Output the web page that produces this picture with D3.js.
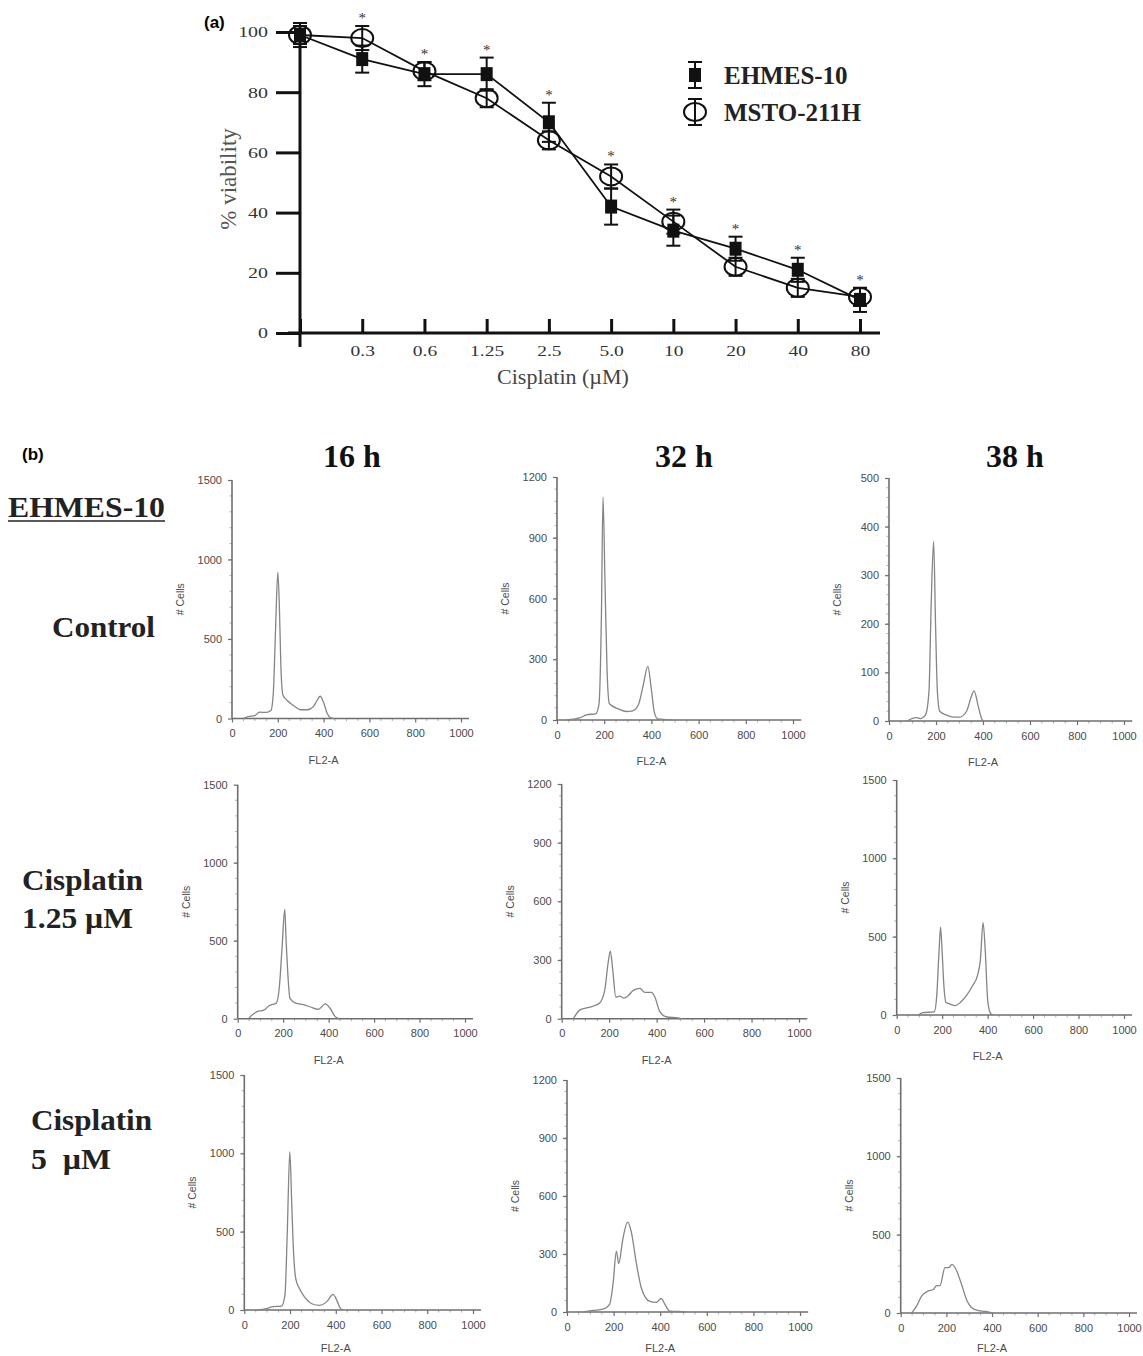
<!DOCTYPE html>
<html>
<head>
<meta charset="utf-8">
<script src="https://cdn.jsdelivr.net/npm/d3@7"></script>
<style>
  body { margin: 0; background: #fff; }
  svg { display: block; }
</style>
</head>
<body>
<svg id="chart" width="1143" height="1356"></svg>
<script>
// ---- panel (a) data: viability vs cisplatin
const concLabels = ["0", "0.3", "0.6", "1.25", "2.5", "5.0", "10", "20", "40", "80"];
const ehmesMean = [99, 91, 86, 86, 70, 42, 34, 28, 21, 11];
const ehmesErr  = [4, 4.5, 4, 5.5, 6.5, 6, 5, 4, 4, 4];
const mstoMean  = [99, 98, 87, 78, 64, 52, 37, 22, 15, 12];
const mstoErr   = [3, 4, 3, 3, 3, 4, 4, 3, 3, 3];
const sigMarks  = ["", "*", "*", "*", "*", "*", "*", "*", "*", "*"];
const viabilityTicks = [0, 20, 40, 60, 80, 100];

// ---- panel (b) data: DNA histograms, [FL2-A, # cells]
const fl2Ticks = [0, 200, 400, 600, 800, 1000];
const ticks1500 = [0, 500, 1000, 1500];
const ticks1200 = [0, 300, 600, 900, 1200];
const ticks500 = [0, 100, 200, 300, 400, 500];

const ctrl16 = [[50,0],[70,12],[100,18],[120,40],[150,38],[170,50],[180,150],[190,550],[200,920],[207,700],[213,350],[222,150],[240,115],[270,80],[300,55],[330,55],[355,75],[370,110],[385,140],[400,100],[415,35],[430,5],[445,0]];
const ctrl32 = [[40,0],[95,10],[125,25],[165,32],[178,80],[188,500],[195,1100],[203,700],[212,250],[222,80],[260,55],[295,42],[320,45],[345,75],[365,170],[385,265],[400,150],[413,35],[428,5],[475,2],[490,0]];
const ctrl38 = [[75,0],[118,7],[135,5],[155,12],[170,60],[180,250],[190,370],[198,200],[206,60],[216,20],[245,12],[275,8],[300,8],[330,20],[350,50],[362,62],[380,30],[394,5],[402,0]];
const cis125_16 = [[47,0],[65,25],[85,45],[115,55],[140,85],[170,100],[183,200],[195,450],[207,700],[213,500],[220,300],[230,130],[255,100],[290,90],[320,75],[355,60],[385,95],[405,70],[428,15],[443,0]];
const cis125_32 = [[49,0],[77,45],[105,55],[135,65],[160,80],[182,150],[195,280],[205,345],[215,250],[228,110],[245,115],[262,105],[282,120],[302,145],[330,155],[350,135],[378,135],[393,110],[412,40],[440,10],[495,3],[505,0]];
const cis125_38 = [[95,0],[115,15],[165,20],[176,120],[186,400],[193,560],[200,400],[207,200],[217,80],[235,70],[258,60],[280,80],[305,120],[335,190],[355,250],[368,350],[380,590],[390,400],[400,100],[413,10],[425,0]];
const cis5_16 = [[55,0],[98,8],[120,20],[163,25],[178,100],[188,500],[199,1010],[208,650],[216,350],[225,200],[240,140],[265,80],[295,40],[330,30],[362,55],[388,100],[405,60],[420,10],[432,0]];
const cis5_32 = [[69,0],[112,8],[155,15],[183,40],[198,150],[212,315],[222,250],[240,380],[260,465],[275,420],[298,250],[320,120],[355,55],[384,50],[404,70],[420,40],[441,5],[505,2],[510,0]];
const cis5_38 = [[48,0],[70,45],[92,110],[120,140],[143,150],[157,175],[172,175],[194,290],[210,290],[225,310],[245,270],[267,180],[290,80],[310,35],[340,15],[370,10],[400,0]];

const svg = d3.select("#chart");
const serif = "'Liberation Serif', 'Times New Roman', serif";
const sans = "'Liberation Sans', Arial, sans-serif";

// stretch axis text horizontally around its anchor
function stretch(sel, k) {
  sel.each(function () {
    const t = d3.select(this);
    const x0 = +t.attr("x") || 0;
    t.attr("x", x0 / k).attr("transform", `scale(${k},1)`);
  });
}

// ================= panel (a) =================
const ga = svg.append("g");
const x = d3.scalePoint().domain(concLabels).range([300, 860]);
const y = d3.scaleLinear().domain([0, 100]).range([333, 32]);

ga.append("text").attr("x", 204).attr("y", 28).text("(a)")
  .style("font-family", sans).style("font-weight", "bold").style("font-size", "17px");

// axes
const xAxis = ga.append("g").attr("transform", "translate(0,333)")
  .call(d3.axisBottom(x).tickSizeInner(-14).tickSizeOuter(0).tickPadding(12)
    .tickFormat((d, i) => i === 0 ? "" : d));
xAxis.select(".domain").remove();
xAxis.selectAll("line").attr("stroke", "#111").attr("stroke-width", 3);
xAxis.selectAll("text").style("font-family", serif).style("font-size", "15px").attr("fill", "#333");
stretch(xAxis.selectAll("text"), 1.3);

const yAxis = ga.append("g").attr("transform", "translate(300,0)")
  .call(d3.axisLeft(y).tickValues(viabilityTicks).tickSize(24).tickPadding(8));
yAxis.select(".domain").remove();
yAxis.selectAll("line").attr("stroke", "#111").attr("stroke-width", 3);
yAxis.selectAll("text").style("font-family", serif).style("font-size", "15px").attr("fill", "#333");
stretch(yAxis.selectAll("text"), 1.33);

ga.append("line").attr("x1", 288).attr("x2", 880).attr("y1", y(0)).attr("y2", y(0))
  .attr("stroke", "#111").attr("stroke-width", 3);
ga.append("line").attr("x1", 300).attr("x2", 300).attr("y1", 27).attr("y2", 347)
  .attr("stroke", "#111").attr("stroke-width", 3);

ga.append("text").attr("transform", "translate(236,179) rotate(-90)")
  .attr("text-anchor", "middle").text("% viability")
  .style("font-family", serif).style("font-size", "23px").attr("fill", "#555");
ga.append("text").attr("x", 563).attr("y", 384).attr("text-anchor", "middle")
  .text("Cisplatin (\u00b5M)")
  .style("font-family", serif).style("font-size", "22px").attr("fill", "#444");

// lines
const line = d3.line().x((d, i) => x(concLabels[i])).y(d => y(d));
[ehmesMean, mstoMean].forEach(s => {
  ga.append("path").datum(s).attr("d", line)
    .attr("fill", "none").attr("stroke", "#111").attr("stroke-width", 1.8);
});

// error bars
function errBars(means, errs) {
  const g = ga.append("g").attr("stroke", "#111").attr("stroke-width", 2);
  means.forEach((m, i) => {
    const cx = x(concLabels[i]);
    g.append("line").attr("x1", cx).attr("x2", cx).attr("y1", y(m - errs[i])).attr("y2", y(m + errs[i]));
    g.append("line").attr("x1", cx - 7).attr("x2", cx + 7).attr("y1", y(m + errs[i])).attr("y2", y(m + errs[i]));
    g.append("line").attr("x1", cx - 7).attr("x2", cx + 7).attr("y1", y(m - errs[i])).attr("y2", y(m - errs[i]));
  });
}
errBars(ehmesMean, ehmesErr);
errBars(mstoMean, mstoErr);

ga.selectAll("rect.ehmes").data(ehmesMean).enter().append("rect")
  .attr("class", "ehmes")
  .attr("x", (d, i) => x(concLabels[i]) - 6).attr("y", d => y(d) - 7)
  .attr("width", 12).attr("height", 14).attr("fill", "#111");
ga.selectAll("ellipse.msto").data(mstoMean).enter().append("ellipse")
  .attr("class", "msto")
  .attr("cx", (d, i) => x(concLabels[i])).attr("cy", d => y(d)).attr("rx", 11).attr("ry", 9)
  .attr("fill", "none").attr("stroke", "#111").attr("stroke-width", 2);

// significance marks
ga.selectAll("text.sig").data(sigMarks).enter().append("text")
  .attr("class", "sig")
  .attr("x", (d, i) => x(concLabels[i]))
  .attr("y", (d, i) => y(Math.max(ehmesMean[i] + ehmesErr[i], mstoMean[i] + mstoErr[i])) - 3)
  .attr("text-anchor", "middle").text(d => d)
  .style("font-family", serif).style("font-size", "15px").attr("fill", "#333");

// legend
const legend = [
  { name: "EHMES-10", cy: 75, type: "square" },
  { name: "MSTO-211H", cy: 112, type: "circle" }
];
const lgX = 695;
legend.forEach(l => {
  const g = ga.append("g").attr("stroke", "#111").attr("stroke-width", 2);
  g.append("line").attr("x1", lgX).attr("x2", lgX).attr("y1", l.cy - 13).attr("y2", l.cy + 13);
  g.append("line").attr("x1", lgX - 7).attr("x2", lgX + 7).attr("y1", l.cy - 13).attr("y2", l.cy - 13);
  g.append("line").attr("x1", lgX - 7).attr("x2", lgX + 7).attr("y1", l.cy + 13).attr("y2", l.cy + 13);
  if (l.type === "square") {
    g.append("rect").attr("x", lgX - 6).attr("y", l.cy - 7).attr("width", 12).attr("height", 14)
      .attr("fill", "#111").attr("stroke", "none");
  } else {
    g.append("ellipse").attr("cx", lgX).attr("cy", l.cy).attr("rx", 11).attr("ry", 9).attr("fill", "none");
  }
  ga.append("text").attr("x", lgX + 29).attr("y", l.cy + 9).text(l.name)
    .style("font-family", serif).style("font-weight", "bold").style("font-size", "25px").attr("fill", "#222");
});

// ================= panel (b) =================
const gb = svg.append("g");
gb.append("text").attr("x", 22).attr("y", 460).text("(b)")
  .style("font-family", sans).style("font-weight", "bold").style("font-size", "17px");

const colTitles = [["16 h", 352], ["32 h", 684], ["38 h", 1015]];
colTitles.forEach(([t, cx]) => {
  gb.append("text").attr("x", cx).attr("y", 467).attr("text-anchor", "middle").text(t)
    .style("font-family", serif).style("font-weight", "bold").style("font-size", "32px").attr("fill", "#111");
});

const rowLabels = [
  ["EHMES-10", 8, 517, 157],
  ["Control", 52, 637, 103],
  ["Cisplatin", 22, 890, 121],
  ["1.25 \u00b5M", 22, 928, 111],
  ["Cisplatin", 31, 1130, 121],
  ["5\u00a0\u00a0\u00b5M", 31, 1169, 80]
];
rowLabels.forEach(([t, lx, ly, w], i) => {
  const txt = gb.append("text").attr("x", lx).attr("y", ly).text(t)
    .attr("textLength", w).attr("lengthAdjust", "spacingAndGlyphs")
    .style("font-family", serif).style("font-weight", "bold").style("font-size", "30px").attr("fill", "#222");
  if (i === 0) {
    gb.append("line").attr("x1", lx).attr("x2", lx + w).attr("y1", ly + 4).attr("y2", ly + 4)
      .attr("stroke", "#222").attr("stroke-width", 1.6);
  }
});

const panels = [
  { data: ctrl16,    ticks: ticks1500, x0: 232,   x1: 461, y0: 718.5, yT: 480 },
  { data: ctrl32,    ticks: ticks1200, x0: 557,   x1: 793, y0: 720,   yT: 477 },
  { data: ctrl38,    ticks: ticks500,  x0: 889,   x1: 1124, y0: 721,  yT: 478 },
  { data: cis125_16, ticks: ticks1500, x0: 237.7, x1: 465, y0: 1018.7, yT: 784.7 },
  { data: cis125_32, ticks: ticks1200, x0: 561.7, x1: 799, y0: 1018.7, yT: 784 },
  { data: cis125_38, ticks: ticks1500, x0: 896.7, x1: 1124, y0: 1015, yT: 780 },
  { data: cis5_16,   ticks: ticks1500, x0: 244.3, x1: 473, y0: 1310,  yT: 1075 },
  { data: cis5_32,   ticks: ticks1200, x0: 567,   x1: 800, y0: 1312,  yT: 1080 },
  { data: cis5_38,   ticks: ticks1500, x0: 900.7, x1: 1129, y0: 1313, yT: 1078 }
];

const axisCol = "#6e6e6e";
panels.forEach(p => {
  const ymax = p.ticks[p.ticks.length - 1];
  const xs = d3.scaleLinear().domain([0, 1000]).range([p.x0, p.x1]);
  const ys = d3.scaleLinear().domain([0, ymax]).range([p.y0, p.yT]);
  const g = gb.append("g");

  // minor ticks
  const step = p.ticks[1] / 5;
  d3.range(step, ymax, step).forEach(v => {
    g.append("line").attr("x1", p.x0 - 2.5).attr("x2", p.x0).attr("y1", ys(v)).attr("y2", ys(v))
      .attr("stroke", "#9a9a9a").attr("stroke-width", 0.8);
  });
  d3.range(50, 1050, 50).filter(v => v % 200 !== 0).forEach(v => {
    g.append("line").attr("x1", xs(v)).attr("x2", xs(v)).attr("y1", p.y0).attr("y2", p.y0 + 2.5)
      .attr("stroke", "#9a9a9a").attr("stroke-width", 0.8);
  });

  const ax = g.append("g").attr("transform", `translate(0,${p.y0})`)
    .call(d3.axisBottom(xs).tickValues(fl2Ticks).tickFormat(d3.format("d"))
      .tickSize(4).tickSizeOuter(0).tickPadding(7));
  const ay = g.append("g").attr("transform", `translate(${p.x0},0)`)
    .call(d3.axisLeft(ys).tickValues(p.ticks).tickFormat(d3.format("d"))
      .tickSize(4).tickSizeOuter(0).tickPadding(6));
  [ax, ay].forEach(a => {
    a.select(".domain").remove();
    a.selectAll("line").attr("stroke", axisCol).attr("stroke-width", 1.2);
    a.selectAll("text").style("font-family", sans).style("font-size", "11px").attr("fill", "#4a4a4a");
  });
  g.append("line").attr("x1", p.x0).attr("x2", xs(1035)).attr("y1", p.y0).attr("y2", p.y0)
    .attr("stroke", axisCol).attr("stroke-width", 1.6);
  g.append("line").attr("x1", p.x0).attr("x2", p.x0).attr("y1", p.y0).attr("y2", p.yT)
    .attr("stroke", axisCol).attr("stroke-width", 1.6);

  g.append("path").datum(p.data)
    .attr("d", d3.line().x(d => xs(d[0])).y(d => ys(d[1])).curve(d3.curveMonotoneX))
    .attr("fill", "none").attr("stroke", "#858585").attr("stroke-width", 1.3);

  g.append("text").attr("transform", `translate(${p.x0 - 48},${(p.y0 + p.yT) / 2}) rotate(-90)`)
    .attr("text-anchor", "middle").text("# Cells")
    .style("font-family", sans).style("font-size", "10.5px").attr("fill", "#4a4a4a");
  g.append("text").attr("x", xs(400)).attr("y", Math.min(p.y0 + 45, 1352)).attr("text-anchor", "middle").text("FL2-A")
    .style("font-family", sans).style("font-size", "11px").attr("fill", "#4a4a4a");
});
</script>
</body>
</html>
